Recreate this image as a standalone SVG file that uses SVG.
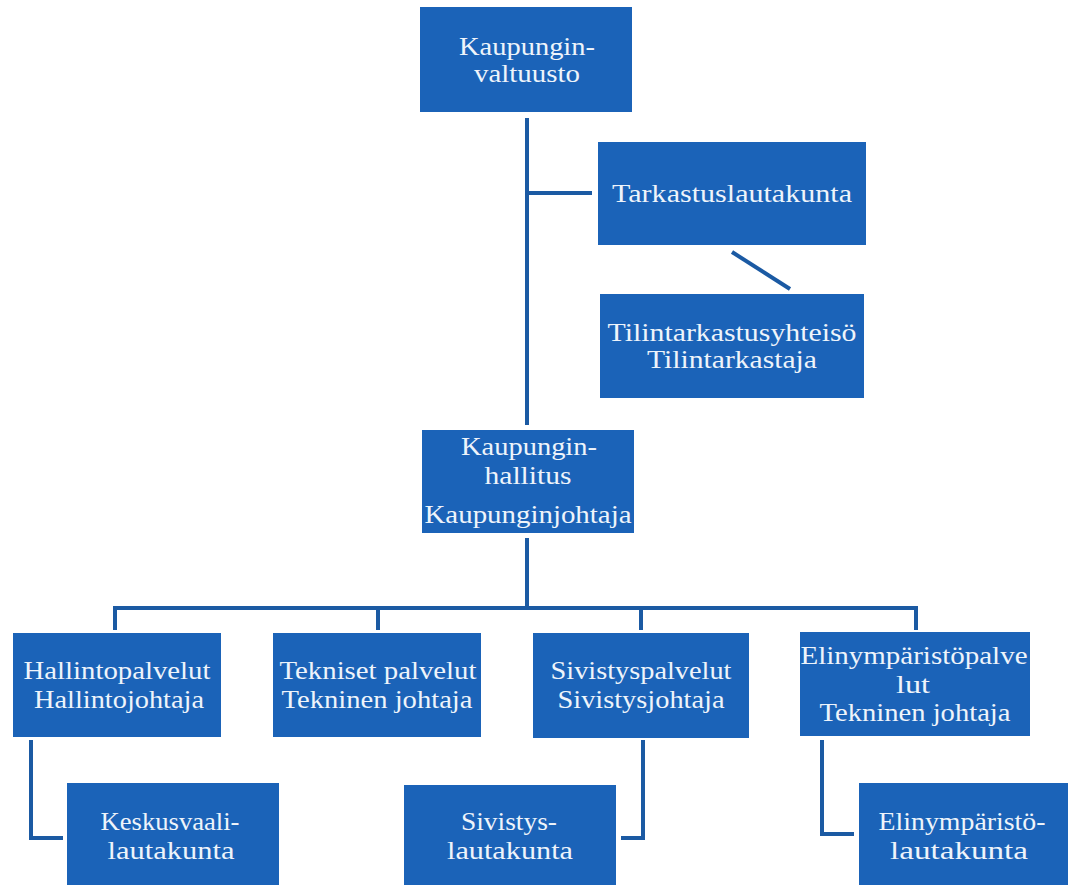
<svg xmlns="http://www.w3.org/2000/svg" width="1072" height="885" viewBox="0 0 1072 885">
<style>
.box{fill:#1b63b8;}
.t{font-family:"Liberation Serif","Times New Roman",serif;font-size:26px;fill:#eef4fb;text-anchor:middle;}
.c{fill:none;stroke:#1b5aa3;stroke-width:4;}
</style>
<rect width="1072" height="885" fill="#ffffff"/>
<g id="connectors">
<path class="c" d="M527,118 V425"/>
<path class="c" d="M527,193 H592"/>
<path class="c" d="M732,252 L790,289"/>
<path class="c" d="M527,538 V608"/>
<path class="c" d="M115,630 V608 H916 V630"/>
<path class="c" d="M378,608 V630"/>
<path class="c" d="M641,608 V630"/>
<path class="c" d="M31,740 V838 H63"/>
<path class="c" d="M643,740 V838 H621"/>
<path class="c" d="M822,740 V834 H854"/>
</g>
<g id="valtuusto">
<rect class="box" x="420" y="7" width="212" height="105"/>
<text class="t" x="527" y="55" textLength="136" lengthAdjust="spacingAndGlyphs">Kaupungin-</text>
<text class="t" x="527" y="82" textLength="106" lengthAdjust="spacingAndGlyphs">valtuusto</text>
</g>
<g id="tarkastus">
<rect class="box" x="598" y="142" width="268" height="103"/>
<text class="t" x="732" y="202" textLength="240" lengthAdjust="spacingAndGlyphs">Tarkastuslautakunta</text>
</g>
<g id="tilintarkastus">
<rect class="box" x="600" y="294" width="264" height="104"/>
<text class="t" x="732" y="341" textLength="249" lengthAdjust="spacingAndGlyphs">Tilintarkastusyhteisö</text>
<text class="t" x="732" y="368" textLength="170" lengthAdjust="spacingAndGlyphs">Tilintarkastaja</text>
</g>
<g id="hallitus">
<rect class="box" x="422" y="430" width="212" height="103"/>
<text class="t" x="529" y="455" textLength="136" lengthAdjust="spacingAndGlyphs">Kaupungin-</text>
<text class="t" x="528" y="484" textLength="87" lengthAdjust="spacingAndGlyphs">hallitus</text>
<text class="t" x="528" y="523" textLength="207" lengthAdjust="spacingAndGlyphs">Kaupunginjohtaja</text>
</g>
<g id="hallintopalvelut">
<rect class="box" x="13" y="633" width="208" height="104"/>
<text class="t" x="117" y="679" textLength="187" lengthAdjust="spacingAndGlyphs">Hallintopalvelut</text>
<text class="t" x="119" y="708" textLength="170" lengthAdjust="spacingAndGlyphs">Hallintojohtaja</text>
</g>
<g id="tekniset">
<rect class="box" x="273" y="633" width="208" height="104"/>
<text class="t" x="378" y="679" textLength="197" lengthAdjust="spacingAndGlyphs">Tekniset palvelut</text>
<text class="t" x="377" y="708" textLength="191" lengthAdjust="spacingAndGlyphs">Tekninen johtaja</text>
</g>
<g id="sivistyspalvelut">
<rect class="box" x="533" y="633" width="216" height="105"/>
<text class="t" x="641" y="679" textLength="181" lengthAdjust="spacingAndGlyphs">Sivistyspalvelut</text>
<text class="t" x="641" y="708" textLength="167" lengthAdjust="spacingAndGlyphs">Sivistysjohtaja</text>
</g>
<g id="elinymparisto">
<rect class="box" x="800" y="632" width="230" height="104"/>
<text class="t" x="914" y="664" textLength="227" lengthAdjust="spacingAndGlyphs">Elinympäristöpalve</text>
<text class="t" x="913" y="693" textLength="34" lengthAdjust="spacingAndGlyphs">lut</text>
<text class="t" x="915" y="721" textLength="191" lengthAdjust="spacingAndGlyphs">Tekninen johtaja</text>
</g>
<g id="keskusvaali">
<rect class="box" x="67" y="783" width="212" height="110"/>
<text class="t" x="170" y="830" textLength="139" lengthAdjust="spacingAndGlyphs">Keskusvaali-</text>
<text class="t" x="171" y="859" textLength="127" lengthAdjust="spacingAndGlyphs">lautakunta</text>
</g>
<g id="sivistyslautakunta">
<rect class="box" x="404" y="785" width="212" height="110"/>
<text class="t" x="509" y="830" textLength="96" lengthAdjust="spacingAndGlyphs">Sivistys-</text>
<text class="t" x="510" y="859" textLength="126" lengthAdjust="spacingAndGlyphs">lautakunta</text>
</g>
<g id="elinymparistolautakunta">
<rect class="box" x="859" y="783" width="209" height="110"/>
<text class="t" x="962" y="830" textLength="167" lengthAdjust="spacingAndGlyphs">Elinympäristö-</text>
<text class="t" x="959" y="859" textLength="138" lengthAdjust="spacingAndGlyphs">lautakunta</text>
</g>
</svg>
